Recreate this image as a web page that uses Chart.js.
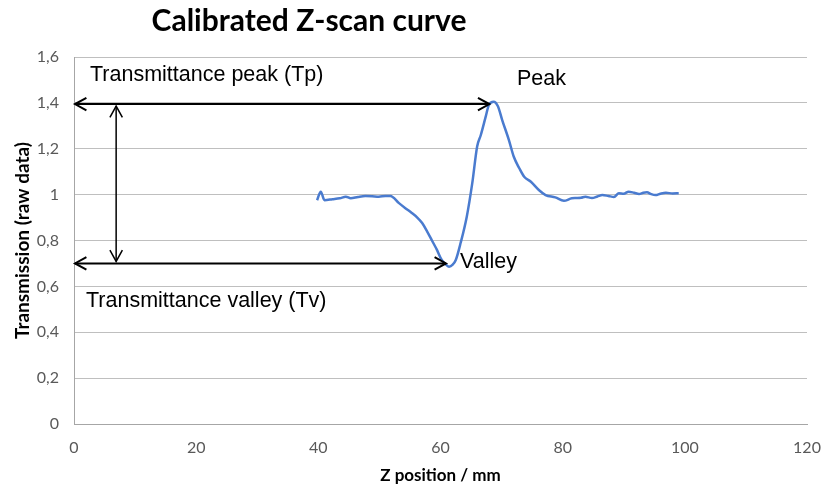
<!DOCTYPE html>
<html>
<head>
<meta charset="utf-8">
<script src="https://cdn.jsdelivr.net/npm/chart.js@4.4.1/dist/chart.umd.min.js"></script>
<style>
  html, body { margin: 0; padding: 0; background: #ffffff; }
  #wrap { width: 822px; height: 488px; position: relative; }
</style>
</head>
<body>
<div id="wrap"><canvas id="c" width="822" height="488"></canvas></div>
<script>
// Z-scan measurement: sample position (mm) and normalised transmission
const zPosition = [39.8, 40.4, 41.0, 42.3, 43.5, 44.5, 45.3, 46.5, 47.7, 48.8, 49.9, 51.0, 51.8,
  53.2, 54.3, 55.3, 56.2, 57.0, 57.8, 58.6, 59.4, 60.2, 60.9, 61.4, 62.0, 62.5, 63.3, 64.3,
  65.2, 66.0, 66.6, 67.4, 67.9, 68.7, 69.4, 70.1, 71.2, 72.0, 72.9, 73.7, 74.8, 76.1,
  77.2, 78.8, 80.2, 81.5, 82.2, 83.0, 83.7, 84.8, 85.7, 86.5,
  87.5, 88.4, 89.2, 90.0, 90.8, 91.7, 92.5, 93.2, 93.8, 94.5, 95.2, 96.0, 96.9, 98.0, 99.0];
const transmission = [0.976, 1.013, 0.976, 0.980, 0.984, 0.991, 0.984, 0.990, 0.994, 0.993, 0.991, 0.994, 0.994,
  0.963, 0.940, 0.920, 0.900, 0.876, 0.840, 0.800, 0.760, 0.715, 0.695, 0.686, 0.695, 0.715, 0.790, 0.904,
  1.050, 1.210, 1.260, 1.340, 1.390, 1.405, 1.385, 1.325, 1.238, 1.165, 1.115, 1.078, 1.056, 1.020,
  0.998, 0.988, 0.973, 0.984, 0.985, 0.986, 0.991, 0.985, 0.992, 0.998,
  0.994, 0.990, 1.006, 1.004, 1.013, 1.008, 1.003, 1.008, 1.010, 1.002, 0.998, 1.004, 1.008, 1.005, 1.006];

// Reference levels marked with arrows
const peakLevel = 1.395;
const valleyLevel = 0.70;
const peakArrowEnd = 68.0;
const valleyArrowEnd = 60.9;
const spanArrowZ = 6.9;

const xTicks = [0, 20, 40, 60, 80, 100, 120];
const yTicks = [0, 0.2, 0.4, 0.6, 0.8, 1, 1.2, 1.4, 1.6];

const points = zPosition.map((z, i) => ({ x: z, y: transmission[i] }));

function arrowHead(ctx, x, y, dir) {
  // dir: angle in radians the arrow points to
  const len = 13, spread = 0.5;
  ctx.beginPath();
  ctx.moveTo(x - len * Math.cos(dir - spread), y - len * Math.sin(dir - spread));
  ctx.lineTo(x, y);
  ctx.lineTo(x - len * Math.cos(dir + spread), y - len * Math.sin(dir + spread));
  ctx.stroke();
}

const annotations = {
  id: 'zscanAnnotations',
  afterDatasetsDraw(chart) {
    const { ctx, scales: { x, y } } = chart;
    ctx.save();
    ctx.strokeStyle = '#000000';
    ctx.lineWidth = 2;
    // peak level double arrow
    const yp = y.getPixelForValue(peakLevel);
    const x0 = x.getPixelForValue(0);
    const xp = x.getPixelForValue(peakArrowEnd);
    ctx.beginPath(); ctx.moveTo(x0 + 1, yp); ctx.lineTo(xp, yp); ctx.stroke();
    arrowHead(ctx, x0 + 1, yp, Math.PI);
    arrowHead(ctx, xp, yp, 0);
    // valley level double arrow
    const yv = y.getPixelForValue(valleyLevel);
    const xv = x.getPixelForValue(valleyArrowEnd);
    ctx.beginPath(); ctx.moveTo(x0 + 1, yv); ctx.lineTo(xv, yv); ctx.stroke();
    arrowHead(ctx, x0 + 1, yv, Math.PI);
    arrowHead(ctx, xv, yv, 0);
    // vertical span arrow
    ctx.lineWidth = 1.5;
    const xs = x.getPixelForValue(spanArrowZ);
    ctx.beginPath(); ctx.moveTo(xs, yp + 2); ctx.lineTo(xs, yv - 2); ctx.stroke();
    arrowHead(ctx, xs, yp + 2, -Math.PI / 2);
    arrowHead(ctx, xs, yv - 2, Math.PI / 2);

    // labels
    ctx.fillStyle = '#000000';
    ctx.font = '21.5px "Liberation Sans", Arial, sans-serif';
    ctx.textBaseline = 'middle';
    ctx.textAlign = 'left';
    ctx.fillText('Transmittance peak (Tp)', 90, 75);
    ctx.fillText('Peak', 517, 79);
    ctx.fillText('Valley', 460, 262);
    ctx.fillText('Transmittance valley (Tv)', 86, 301);

    // heading
    ctx.font = 'bold 30px Lato, "Open Sans", sans-serif';
    ctx.textAlign = 'center';
    ctx.fillText('Calibrated Z-scan curve', 309, 21);
    ctx.restore();
  }
};

new Chart(document.getElementById('c'), {
  type: 'scatter',
  data: {
    datasets: [{
      data: points,
      showLine: true,
      borderColor: '#4a7bcf',
      borderWidth: 2.5,
      pointRadius: 0,
      cubicInterpolationMode: 'monotone',
      fill: false
    }]
  },
  options: {
    responsive: false,
    animation: false,
    layout: { padding: { top: 57, right: 15, bottom: 0, left: 0 } },
    plugins: { legend: { display: false }, tooltip: { enabled: false } },
    scales: {
      x: {
        type: 'linear',
        min: 0, max: 120,
        afterBuildTicks(s) { s.ticks = xTicks.map(v => ({ value: v })); },
        afterFit(s) { s.height = 64; s.paddingLeft = 0; s.paddingRight = 0; },
        grid: { display: false, drawTicks: false },
        border: { display: true, color: '#a6a6a6', width: 1 },
        ticks: { color: '#595959', font: { family: 'Lato, sans-serif', size: 16 }, padding: 14, maxRotation: 0 },
        title: { display: true, text: 'Z position / mm', color: '#000000', font: { family: 'Lato, sans-serif', size: 17, weight: 'bold' }, padding: { top: 0, bottom: 2 } }
      },
      y: {
        min: 0, max: 1.6,
        afterBuildTicks(s) { s.ticks = yTicks.map(v => ({ value: v })); },
        afterFit(s) { s.width = 74; },
        grid: { color: '#bfbfbf', lineWidth: 1, drawTicks: false },
        border: { display: true, color: '#a6a6a6', width: 1 },
        ticks: {
          color: '#595959', font: { family: 'Lato, sans-serif', size: 16 }, padding: 15,
          callback: v => String(Math.round(v * 10) / 10).replace('.', ',')
        },
        title: { display: true, text: 'Transmission (raw data)', color: '#000000', font: { family: 'Lato, sans-serif', size: 19, weight: 'bold' }, padding: { top: 11, bottom: 0 } }
      }
    }
  },
  plugins: [annotations]
});
</script>
</body>
</html>
